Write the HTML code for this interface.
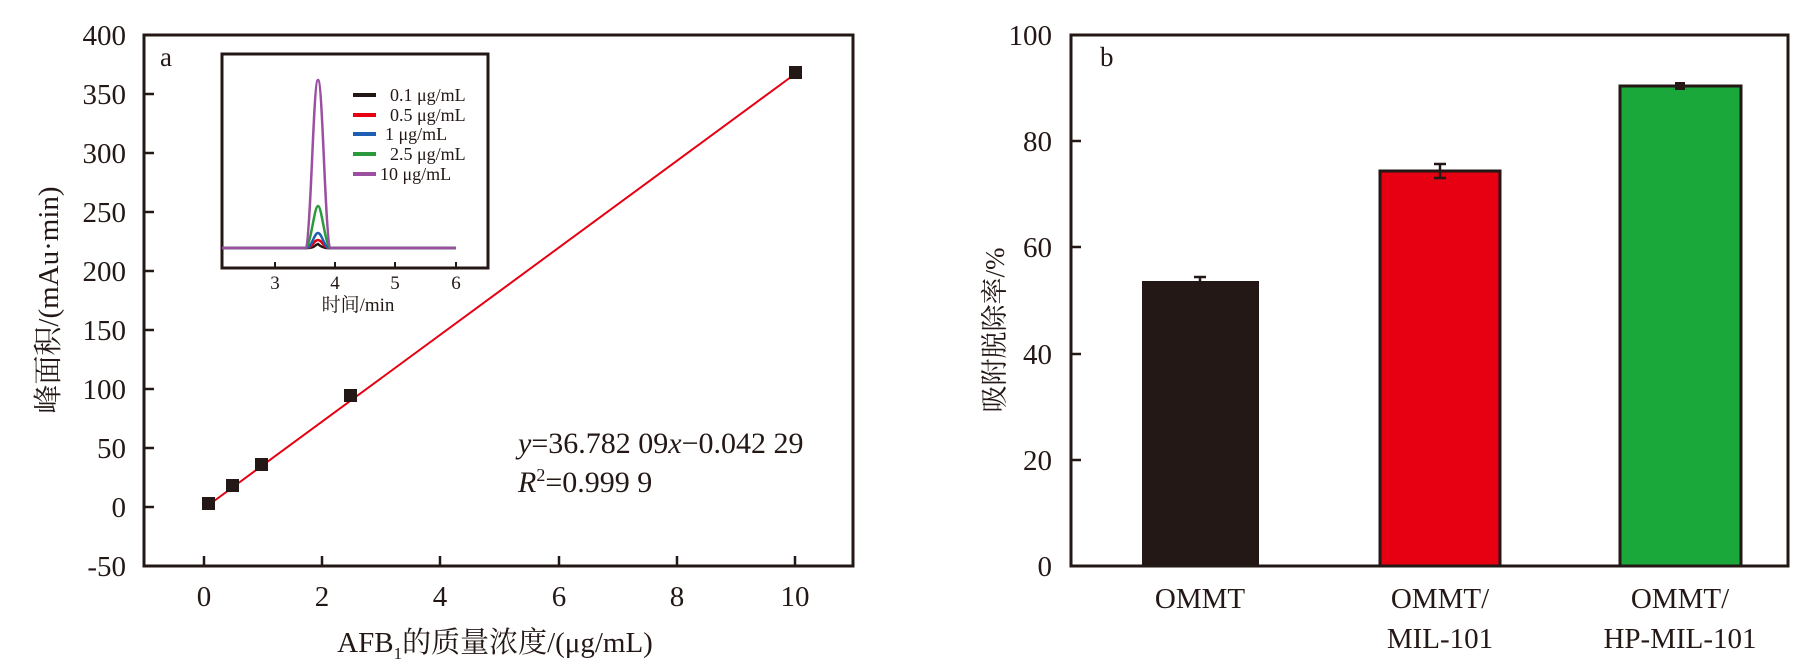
<!DOCTYPE html>
<html><head><meta charset="utf-8"><style>
body{margin:0;background:#fff}
svg{display:block}
text{font-family:"Liberation Serif","Noto Serif CJK SC",serif;fill:#231815}
</style></head><body>
<svg width="1813" height="665" viewBox="0 0 1813 665" xmlns="http://www.w3.org/2000/svg">
<!-- Chart a -->
<rect x="144" y="35" width="709" height="531" fill="none" stroke="#231815" stroke-width="3"/>
<g stroke="#231815" stroke-width="2.5">
<line x1="144" y1="94" x2="154" y2="94"/><line x1="144" y1="153" x2="154" y2="153"/>
<line x1="144" y1="212" x2="154" y2="212"/><line x1="144" y1="271" x2="154" y2="271"/>
<line x1="144" y1="330" x2="154" y2="330"/><line x1="144" y1="389" x2="154" y2="389"/>
<line x1="144" y1="448" x2="154" y2="448"/><line x1="144" y1="507" x2="154" y2="507"/>
<line x1="204" y1="566" x2="204" y2="556"/><line x1="322" y1="566" x2="322" y2="556"/>
<line x1="440" y1="566" x2="440" y2="556"/><line x1="559" y1="566" x2="559" y2="556"/>
<line x1="677" y1="566" x2="677" y2="556"/><line x1="795" y1="566" x2="795" y2="556"/>
</g>
<g font-size="29" text-anchor="end">
<text x="126" y="45">400</text><text x="126" y="104">350</text><text x="126" y="163">300</text>
<text x="126" y="222">250</text><text x="126" y="281">200</text><text x="126" y="340">150</text>
<text x="126" y="399">100</text><text x="126" y="458">50</text><text x="126" y="517">0</text>
<text x="126" y="576">-50</text>
</g>
<g font-size="29" text-anchor="middle">
<text x="204" y="606">0</text><text x="322" y="606">2</text><text x="440" y="606">4</text>
<text x="559" y="606">6</text><text x="677" y="606">8</text><text x="795" y="606">10</text>
</g>
<text x="495" y="652" font-size="29" text-anchor="middle">AFB<tspan font-size="17" dy="7">1</tspan><tspan dy="-7">的质量浓度/(μg/mL)</tspan></text>
<text transform="translate(58,300) rotate(-90)" font-size="29" text-anchor="middle">峰面积/(mAu·min)</text>
<text x="160" y="66" font-size="27">a</text>
<line x1="210" y1="504" x2="795" y2="74" stroke="#e60012" stroke-width="2"/>
<g fill="#231815">
<rect x="202" y="497" width="13" height="13"/><rect x="226" y="479" width="13" height="13"/>
<rect x="255" y="458" width="13" height="13"/><rect x="344" y="389" width="13" height="13"/>
<rect x="789" y="66" width="13" height="13"/>
</g>
<text x="518" y="453" font-size="30"><tspan font-style="italic">y</tspan>=36.782 09<tspan font-style="italic">x</tspan>−0.042 29</text>
<text x="518" y="492" font-size="30"><tspan font-style="italic">R</tspan><tspan font-size="18" dy="-11">2</tspan><tspan dy="11">=0.999 9</tspan></text>
<!-- inset -->
<rect x="222" y="54" width="266" height="214" fill="#fff" stroke="#231815" stroke-width="3"/>
<g stroke="#231815" stroke-width="2">
<line x1="275" y1="268" x2="275" y2="262"/><line x1="335" y1="268" x2="335" y2="262"/>
<line x1="395" y1="268" x2="395" y2="262"/><line x1="456" y1="268" x2="456" y2="262"/>
</g>
<g fill="none" stroke-width="2.5">
<path d="M222 248 L308 248 Q313 248 316 245 L318 244 Q321 247 326 248 L456 248" stroke="#231815"/>
<path d="M222 248 L307 248 C312 248 314 240 318 240 C322 240 324 248 329 248 L456 248" stroke="#e60012"/>
<path d="M222 248 L306 248 C312 248 314 233 318 233 C322 233 324 248 330 248 L456 248" stroke="#1e5fb4"/>
<path d="M222 248 L305 248 C311 248 314 206 318 206 C322 206 325 248 331 248 L456 248" stroke="#2a9a3c"/>
<path d="M222 248 L305 248 C311 248 313 80 318 80 C323 80 325 248 331 248 L456 248" stroke="#9b4fa0"/>
</g>
<g stroke-width="4">
<line x1="353" y1="95" x2="376" y2="95" stroke="#231815"/>
<line x1="353" y1="115" x2="376" y2="115" stroke="#e60012"/>
<line x1="353" y1="134" x2="376" y2="134" stroke="#1e5fb4"/>
<line x1="353" y1="154" x2="376" y2="154" stroke="#2a9a3c"/>
<line x1="353" y1="174" x2="376" y2="174" stroke="#9b4fa0"/>
</g>
<g font-size="18">
<text x="390" y="101">0.1 μg/mL</text><text x="390" y="121">0.5 μg/mL</text>
<text x="385" y="140">1 μg/mL</text><text x="390" y="160">2.5 μg/mL</text>
<text x="380" y="180">10 μg/mL</text>
</g>
<g font-size="19" text-anchor="middle">
<text x="275" y="289">3</text><text x="335" y="289">4</text><text x="395" y="289">5</text><text x="456" y="289">6</text>
<text x="358" y="311">时间/min</text>
</g>
<!-- Chart b -->
<rect x="1142" y="281" width="117" height="285" fill="#231815"/>
<rect x="1380" y="171" width="120" height="395" fill="#e60012" stroke="#231815" stroke-width="3"/>
<rect x="1620" y="86" width="121" height="480" fill="#1ba83a" stroke="#231815" stroke-width="3"/>
<g stroke="#231815" stroke-width="2.5">
<line x1="1200" y1="281" x2="1200" y2="277"/><line x1="1194" y1="277" x2="1206" y2="277"/>
<line x1="1440" y1="171" x2="1440" y2="164"/><line x1="1440" y1="171" x2="1440" y2="178"/>
<line x1="1434" y1="164" x2="1446" y2="164"/><line x1="1434" y1="178" x2="1446" y2="178"/>
</g>
<rect x="1675" y="82" width="10" height="8" fill="#231815"/>
<rect x="1071" y="35" width="717" height="531" fill="none" stroke="#231815" stroke-width="3"/>
<g stroke="#231815" stroke-width="2.5">
<line x1="1071" y1="141" x2="1081" y2="141"/><line x1="1071" y1="247" x2="1081" y2="247"/>
<line x1="1071" y1="354" x2="1081" y2="354"/><line x1="1071" y1="460" x2="1081" y2="460"/>
</g>
<g font-size="29" text-anchor="end">
<text x="1052" y="45">100</text><text x="1052" y="151">80</text><text x="1052" y="257">60</text>
<text x="1052" y="364">40</text><text x="1052" y="470">20</text><text x="1052" y="576">0</text>
</g>
<text x="1100" y="66" font-size="27">b</text>
<text transform="translate(1004,330) rotate(-90)" font-size="27" text-anchor="middle">吸附脱除率/%</text>
<g font-size="29" text-anchor="middle">
<text x="1200" y="608">OMMT</text>
<text x="1440" y="608">OMMT/</text><text x="1440" y="648">MIL-101</text>
<text x="1680" y="608">OMMT/</text><text x="1680" y="648">HP-MIL-101</text>
</g>
</svg>
</body></html>
